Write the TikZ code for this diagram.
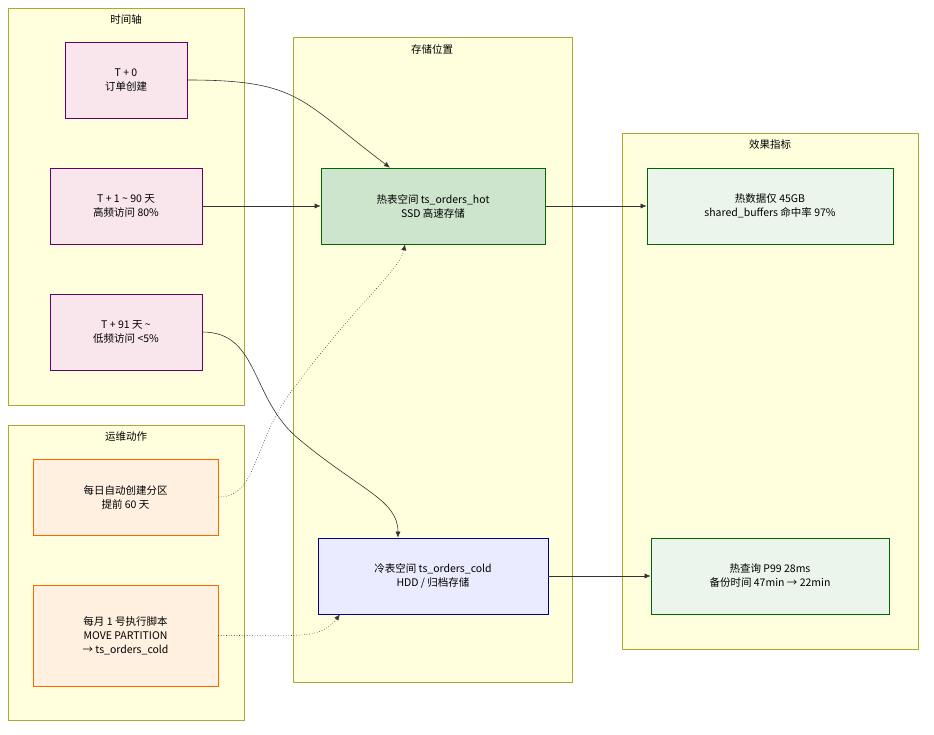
\documentclass[tikz,border=0pt]{standalone}
\usepackage{fontspec}
\setmainfont{Noto Sans CJK SC}
\usetikzlibrary{arrows.meta}
\definecolor{clf}{HTML}{FFFFDE}\definecolor{cls}{HTML}{AAAA33}
\begin{document}
\begin{tikzpicture}[x=1pt,y=-1pt,font=\fontsize{10.5}{14}\selectfont,
 cl/.style={draw=cls,fill=clf,line width=0.6pt},
 box/.style={draw,line width=0.7pt,align=center,inner sep=0pt},
 pu/.style={box,fill=purple!10!white,draw=violet!80!black},
 ob/.style={box,fill=orange!12!white,draw=orange!80!red},
 gr/.style={box,fill=green!50!black!20!white,draw=green!40!black},
 lg/.style={box,fill=green!50!black!8!white,draw=green!40!black},
 bl/.style={box,fill=blue!8!white,draw=blue!60!black},
 ar/.style={-{Latex[length=6pt,width=5pt]},line width=0.6pt,draw=black!80},
 dt/.style={ar,dotted}]
\useasboundingbox (0,0) rectangle (934,735);
\fill[white] (0,0) rectangle (934,735);
\draw[cl] (8,8) rectangle (244,405); \node at (126,20) {时间轴};
\draw[cl] (8,425) rectangle (244,720); \node at (126,437) {运维动作};
\draw[cl] (293,37) rectangle (572,682); \node at (432,49) {存储位置};
\draw[cl] (622,133) rectangle (918,649); \node at (770,145) {效果指标};
\node[pu,minimum width=122,minimum height=76] (t0) at (126,80) {T + 0\\订单创建};
\node[pu,minimum width=152,minimum height=76] (t1) at (126,206) {T + 1 \textasciitilde{} 90 天\\高频访问 80\%};
\node[pu,minimum width=152,minimum height=76] (t2) at (126,332) {T + 91 天 \textasciitilde{}\\低频访问 <5\%};
\node[ob,minimum width=185,minimum height=76] (d) at (125.5,497) {每日自动创建分区\\提前 60 天};
\node[ob,minimum width=185,minimum height=101] (m) at (125.5,635.5) {每月 1 号执行脚本\\MOVE PARTITION\\→ ts\_orders\_cold};
\node[gr,minimum width=224,minimum height=76] (hot) at (433,206) {热表空间 ts\_orders\_hot\\SSD 高速存储};
\node[bl,minimum width=230,minimum height=76] (cold) at (433,576) {冷表空间 ts\_orders\_cold\\HDD / 归档存储};
\node[lg,minimum width=246,minimum height=76] (r1) at (770,206) {热数据仅 45GB\\shared\_buffers 命中率 97\%};
\node[lg,minimum width=238,minimum height=76] (r2) at (770,576) {热查询 P99 28ms\\备份时间 47min → 22min};
\draw[ar] (t0.east) .. controls (300,80) and (300,100) .. ([xshift=-43pt]hot.north);
\draw[ar] (t1.east) -- (hot.west);
\draw[ar] (t2.east) .. controls (260,332) and (250,400) .. (300,440) .. controls (360,490) and (398,500) .. ([xshift=-35pt]cold.north);
\draw[dt] (d.east) .. controls (260,497) and (250,440) .. (300,380) .. controls (360,300) and (400,270) .. ([xshift=-28pt]hot.south);
\draw[dt] (m.east) .. controls (300,635) and (320,640) .. ([xshift=-93pt]cold.south);
\draw[ar] (hot.east) -- (r1.west);
\draw[ar] (cold.east) -- (r2.west);
\end{tikzpicture}
\end{document}
